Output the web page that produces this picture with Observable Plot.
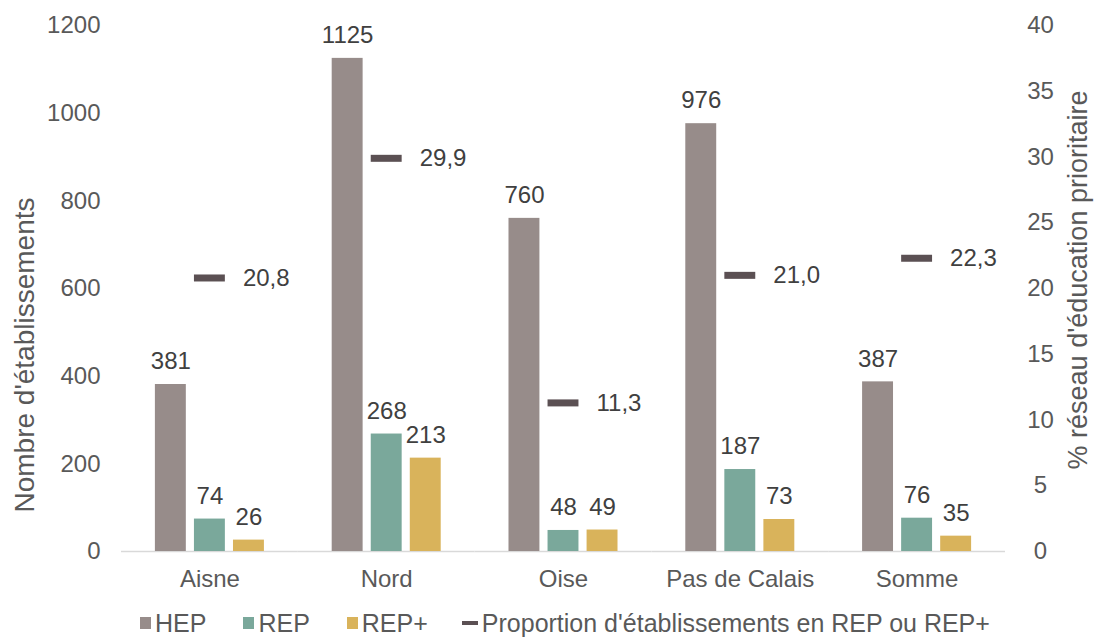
<!DOCTYPE html>
<html>
<head>
<meta charset="utf-8">
<script src="https://cdn.jsdelivr.net/npm/d3@7"></script>
<script src="https://cdn.jsdelivr.net/npm/@observablehq/plot@0.6"></script>
<style>
  html, body { margin: 0; padding: 0; background: #fff; }
  body { width: 1094px; height: 641px; overflow: hidden; font-family: "Liberation Sans", Arial, sans-serif; }
  #legend { display: flex; align-items: center; height: 30px; margin-top: 13px; margin-left: 140px; font-size: 25px; line-height: 28px; color: #595959; }
  .item { display: flex; align-items: center; margin-right: 37px; }
  .item:nth-child(3) { margin-right: 34px; }
  .sw { width: 11px; height: 12px; margin-right: 4px; }
  .dash { width: 16px; height: 4px; margin-right: 4px; background: #5b5053; }
</style>
</head>
<body>
<div id="chart"></div>
<div id="legend"></div>
<script>
const regions = ["Aisne", "Nord", "Oise", "Pas de Calais", "Somme"];
const hep = [381, 1125, 760, 976, 387];
const rep = [74, 268, 48, 187, 76];
const repPlus = [26, 213, 49, 73, 35];
const proportion = [20.8, 29.9, 11.3, 21.0, 22.3];
const series = ["HEP", "REP", "REP+"];
const seriesColors = ["#978c8a", "#7aa89b", "#d9b35b"];
const propLabel = "Proportion d'établissements en REP ou REP+";
const propColor = "#5b5053";
const leftTicks = [0, 200, 400, 600, 800, 1000, 1200];
const rightTicks = [0, 5, 10, 15, 20, 25, 30, 35, 40];
const leftTitle = "Nombre d'établissements";
const rightTitle = "% réseau d'éducation prioritaire";

const k = 1200 / 40; // right axis (0–40 %) mapped onto the left scale (0–1200)

const bars = regions.flatMap((r, i) => [
  {region: r, series: "HEP", value: hep[i]},
  {region: r, series: "REP", value: rep[i]},
  {region: r, series: "REP+", value: repPlus[i]}
]);
const props = regions.map((r, i) => ({region: r, pct: proportion[i]}));

const chart = Plot.plot({
  width: 1094,
  height: 595,
  marginTop: 25,
  marginBottom: 44,
  marginLeft: 121,
  marginRight: 89,
  style: {fontFamily: "'Liberation Sans', Arial, sans-serif", fontSize: "24px", color: "#595959", background: "white"},
  fx: {domain: regions, padding: 0, label: null, round: false},
  x: {domain: series, paddingInner: 0.208, paddingOuter: 0.868, axis: null, round: false},
  y: {domain: [0, 1200], axis: null},
  color: {domain: series, range: seriesColors},
  marks: [
    Plot.axisY({ticks: leftTicks, anchor: "left", tickSize: 0, tickPadding: 21, tickFormat: d => String(d), label: null}),
    Plot.axisY({ticks: rightTicks.map(d => d * k), anchor: "right", tickSize: 0, tickPadding: 35, textAnchor: "middle", tickFormat: d => String(Math.round(d / k)), label: null}),
    Plot.axisFx({anchor: "bottom", tickSize: 0, tickPadding: 18, label: null}),
    Plot.ruleY([0], {stroke: "#d9d9d9", strokeWidth: 1.5}),
    Plot.barY(bars, {fx: "region", x: "series", y: "value", fill: "series"}),
    Plot.text(bars, {fx: "region", x: "series", y: "value", text: d => String(d.value), dy: -23, fill: "#404040"}),
    Plot.tickY(props, {fx: "region", x: () => "REP", y: d => d.pct * k, stroke: propColor, strokeWidth: 7}),
    Plot.text(props, {fx: "region", x: () => "REP", y: d => d.pct * k, text: d => d.pct.toFixed(1).replace(".", ","), textAnchor: "start", dx: 33, fill: "#404040"})
  ]
});
document.getElementById("chart").appendChild(chart);

const svg = d3.select(chart);
svg.append("text")
  .attr("transform", "translate(24,355) rotate(-90)")
  .attr("text-anchor", "middle").attr("dy", "0.35em")
  .attr("fill", "#595959").attr("font-size", 28)
  .text(leftTitle);
svg.append("text")
  .attr("transform", "translate(1078,280) rotate(-90)")
  .attr("text-anchor", "middle").attr("dy", "0.35em")
  .attr("fill", "#595959").attr("font-size", 27)
  .text(rightTitle);

const legend = d3.select("#legend");
series.forEach((s, i) => {
  const it = legend.append("div").attr("class", "item");
  it.append("div").attr("class", "sw").style("background", seriesColors[i]);
  it.append("span").text(s);
});
const it = legend.append("div").attr("class", "item");
it.append("div").attr("class", "dash");
it.append("span").text(propLabel);
</script>
</body>
</html>
